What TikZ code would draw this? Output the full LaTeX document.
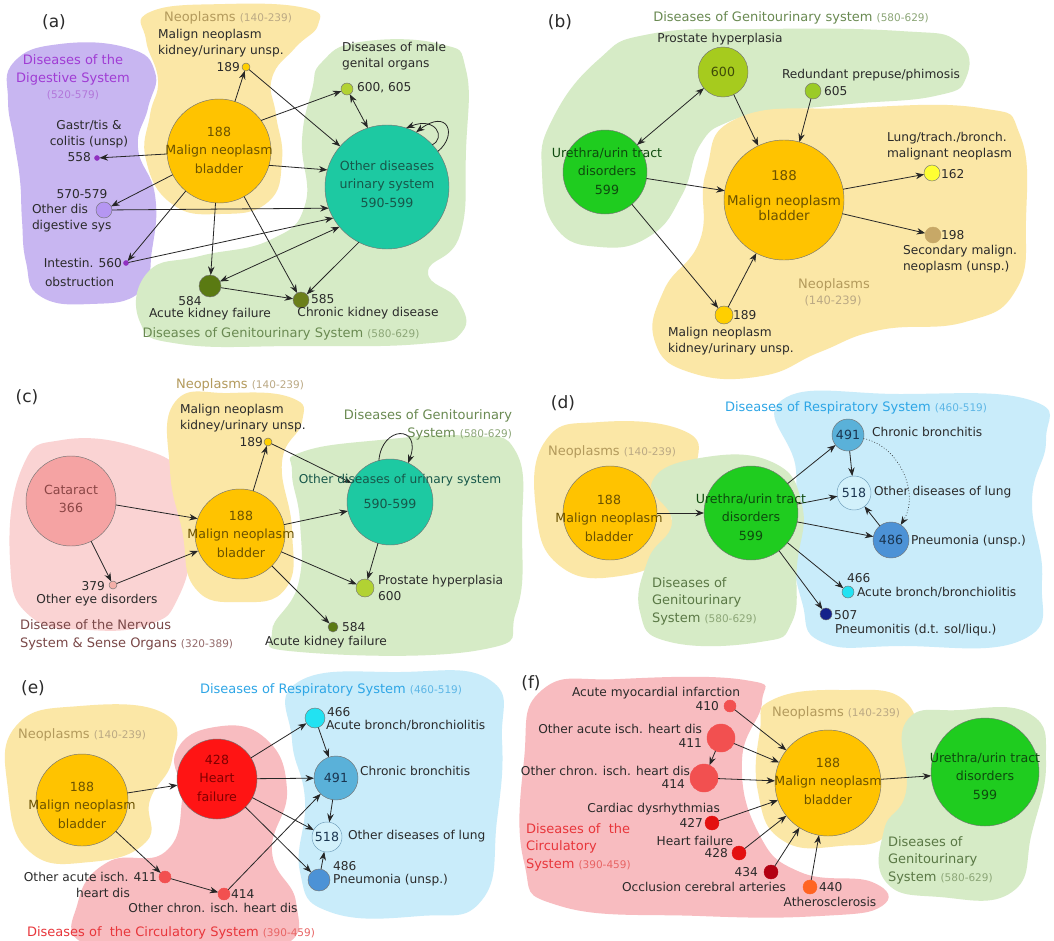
\documentclass[tikz,border=0pt]{standalone}
\usepackage{fontspec}
\setmainfont{DejaVu Sans}
\usetikzlibrary{arrows.meta}
\definecolor{bY}{HTML}{FBE7A6}
\definecolor{bG}{HTML}{D6EBC6}
\definecolor{bP}{HTML}{C8B6F1}
\definecolor{bPkL}{HTML}{FAD3D3}
\definecolor{bPk}{HTML}{F8BCC0}
\definecolor{bB}{HTML}{C9ECFA}
\definecolor{txt}{HTML}{2A2A2A}
\definecolor{tY}{HTML}{B39A5C}
\definecolor{rY}{HTML}{BBA984}
\definecolor{tG}{HTML}{6A8A52}
\definecolor{tGd}{HTML}{5A7845}
\definecolor{rG}{HTML}{8CA677}
\definecolor{tPu}{HTML}{A03CD4}
\definecolor{rPu}{HTML}{B277DA}
\definecolor{tB}{HTML}{2EA6E6}
\definecolor{rB}{HTML}{5DB6E6}
\definecolor{tR}{HTML}{E8363B}
\definecolor{rR}{HTML}{E86464}
\definecolor{tN}{HTML}{7A4848}
\definecolor{rN}{HTML}{946A6A}
\definecolor{tCat}{HTML}{8A4545}
\definecolor{c188}{HTML}{FFC300}
\definecolor{t188}{HTML}{6B5200}
\definecolor{c590}{HTML}{1DC9A2}
\definecolor{t590}{HTML}{17574A}
\definecolor{c599}{HTML}{1FCC1F}
\definecolor{t599}{HTML}{0E4A0E}
\definecolor{c189}{HTML}{FFCF00}
\definecolor{cPd}{HTML}{9030C0}
\definecolor{c570}{HTML}{B596F2}
\definecolor{c584}{HTML}{5A7A12}
\definecolor{c585}{HTML}{6B7F1A}
\definecolor{c600}{HTML}{B2D233}
\definecolor{cb600}{HTML}{A6CB1E}
\definecolor{t600}{HTML}{3E4A08}
\definecolor{c605}{HTML}{9BCB26}
\definecolor{c162}{HTML}{FFFF33}
\definecolor{c198}{HTML}{C7A867}
\definecolor{c366}{HTML}{F5A3A3}
\definecolor{c379}{HTML}{F4AFA8}
\definecolor{c491}{HTML}{5AB1D9}
\definecolor{c518}{HTML}{D2F1FB}
\definecolor{d518}{HTML}{6A9AB8}
\definecolor{c486}{HTML}{4C92D6}
\definecolor{c466}{HTML}{22E2F2}
\definecolor{c507}{HTML}{14218A}
\definecolor{tBl}{HTML}{1A3550}
\definecolor{c428}{HTML}{FF1414}
\definecolor{t428}{HTML}{800000}
\definecolor{cIsch}{HTML}{F25050}
\definecolor{c427}{HTML}{E31010}
\definecolor{c434}{HTML}{B30012}
\definecolor{c440}{HTML}{FF6422}
\newcommand{\lblfont}{\fontsize{12.2}{15.5}\selectfont}
\newcommand{\cirfont}{\fontsize{12.6}{18.5}\selectfont}
\newcommand{\ttlfont}{\fontsize{13}{17.5}\selectfont}
\newcommand{\rngfont}{\fontsize{10.5}{13}\selectfont}
\newcommand{\pnlfont}{\fontsize{17}{20}\selectfont}
\newcommand{\rngin}[2]{{\rngfont\textcolor{#1}{#2}}}
\begin{document}
\begin{tikzpicture}[x=1pt,y=-1pt,
  every node/.style={inner sep=0pt, outer sep=0pt},
  lbl/.style={font=\lblfont, text=txt, align=center},
  ctx/.style={font=\cirfont, align=center},
  ttl/.style={font=\ttlfont, align=center},
  rng/.style={font=\rngfont, align=center},
  pnl/.style={font=\pnlfont, text=txt},
  nd/.style={circle, draw=black!55, line width=0.45pt, inner sep=0pt, minimum size=#1},
  ar/.style={draw=black!85, line width=0.8pt, -{Stealth[length=8.5pt,width=6.5pt]}},
  dar/.style={draw=black!85, line width=0.8pt, {Stealth[length=8.5pt,width=6.5pt]}-{Stealth[length=8.5pt,width=6.5pt]}}
]
\useasboundingbox (0,0) rectangle (1054,940);
\fill[white] (0,0) rectangle (1054,940);
% ---------------- blobs ----------------
% (a)
\fill[bP] plot[smooth cycle, tension=0.8] coordinates {(14,62) (60,44) (128,48) (155,72) (148,108) (138,148) (155,195) (152,250) (140,292) (90,304) (40,296) (26,262) (22,220) (20,180) (14,140) (8,100)};
\fill[bG] plot[smooth cycle, tension=0.8] coordinates {(322,62) (360,42) (440,44) (466,70) (466,150) (460,235) (428,272) (458,300) (462,332) (420,344) (300,346) (180,344) (140,322) (148,272) (200,256) (270,240) (305,205) (302,140) (312,90)};
\fill[bY] plot[smooth cycle, tension=0.8] coordinates {(150,12) (225,4) (305,8) (318,25) (295,48) (272,78) (276,115) (282,160) (268,202) (220,214) (172,204) (146,160) (150,115) (158,80) (146,40)};
% (b)
\fill[bG] plot[smooth cycle, tension=0.8] coordinates {(552,120) (598,60) (650,34) (760,29) (900,31) (958,42) (966,78) (935,96) (850,104) (775,112) (728,122) (700,145) (682,195) (650,236) (600,247) (556,228) (542,172)};
\fill[bY] plot[smooth cycle, tension=0.8] coordinates {(738,118) (850,108) (980,108) (1020,135) (1026,220) (1016,290) (965,322) (880,330) (820,352) (762,376) (692,373) (655,342) (664,290) (700,240) (706,172)};
% (c)
\fill[bPkL] plot[smooth cycle, tension=0.8] coordinates {(22,468) (62,440) (140,448) (186,480) (192,540) (178,598) (150,624) (90,630) (30,616) (10,560)};
\fill[bY] plot[smooth cycle, tension=0.8] coordinates {(175,402) (230,393) (292,398) (302,422) (282,462) (292,530) (286,588) (240,602) (195,588) (182,530) (170,470)};
\fill[bG] plot[smooth cycle, tension=0.8] coordinates {(302,452) (380,440) (470,436) (516,452) (522,530) (516,612) (480,650) (300,652) (272,632) (298,585) (300,522) (292,472)};
% (d)
\fill[bY] plot[smooth cycle, tension=0.8] coordinates {(546,440) (600,422) (682,430) (697,462) (672,500) (670,550) (620,576) (560,566) (536,510)};
\fill[bB] plot[smooth cycle, tension=0.8] coordinates {(782,400) (900,394) (1030,400) (1046,440) (1032,500) (1042,580) (1022,640) (900,646) (822,642) (802,602) (792,540) (796,470)};
\fill[bG] plot[smooth cycle, tension=0.8] coordinates {(652,482) (700,458) (772,462) (802,505) (797,565) (792,622) (760,642) (670,642) (640,612) (648,560) (672,522)};
% (e)
\fill[bY] plot[smooth cycle, tension=0.8] coordinates {(16,726) (80,706) (165,714) (172,760) (150,800) (146,842) (90,862) (30,852) (8,790)};
\fill[bB] plot[smooth cycle, tension=0.8] coordinates {(298,682) (400,672) (490,680) (502,740) (497,820) (482,900) (420,916) (330,912) (300,872) (305,800) (292,740)};
\fill[bPk] plot[smooth cycle, tension=0.8] coordinates {(176,752) (215,727) (265,738) (287,790) (272,852) (296,902) (284,945) (200,948) (88,945) (78,902) (108,862) (165,852) (182,800)};
% (f)
\fill[bPk] plot[smooth cycle, tension=0.8] coordinates {(542,690) (620,679) (745,680) (762,702) (742,760) (758,832) (800,872) (872,882) (882,906) (820,916) (700,916) (560,906) (524,862) (524,760)};
\fill[bY] plot[smooth cycle, tension=0.8] coordinates {(772,700) (840,690) (906,702) (912,762) (892,830) (840,846) (782,840) (758,792) (760,730)};
\fill[bG] plot[smooth cycle, tension=0.8] coordinates {(906,722) (960,710) (1030,714) (1046,762) (1032,832) (1012,892) (940,897) (886,882) (884,830) (906,792)};
% ---------------- circles ----------------
% (a)
\node[nd=104pt, fill=c188] (a188) at (219,151) {};
\node[nd=124pt, fill=c590] (a590) at (387,187) {};
\node[nd=8pt, fill=c189] (a189) at (246,67) {};
\node[nd=12pt, fill=c600] (a600) at (347,89) {};
\node[nd=5pt, fill=cPd, draw=cPd] (a558) at (97,158) {};
\node[nd=16pt, fill=c570] (a570) at (104,210) {};
\node[nd=5pt, fill=cPd, draw=cPd] (a560) at (126,263) {};
\node[nd=22pt, fill=c584] (a584) at (210,286) {};
\node[nd=16pt, fill=c585] (a585) at (301,300) {};
% (b)
\node[nd=50pt, fill=cb600] (b600) at (723,72) {};
\node[nd=16pt, fill=c605] (b605) at (813,91) {};
\node[nd=84pt, fill=c599] (b599) at (605,172) {};
\node[nd=120pt, fill=c188] (b188) at (784,200) {};
\node[nd=16pt, fill=c162] (b162) at (932,173) {};
\node[nd=16pt, fill=c198, draw=c198] (b198) at (933,235) {};
\node[nd=18pt, fill=c189] (b189) at (724,315) {};
% (c)
\node[nd=90pt, fill=c366] (c366) at (71,501) {};
\node[nd=8pt, fill=c379] (c379) at (113,585) {};
\node[nd=90pt, fill=c188] (c188) at (240,534) {};
\node[nd=8pt, fill=c189] (c189) at (268,442) {};
\node[nd=86pt, fill=c590] (c590) at (390,502) {};
\node[nd=18pt, fill=c600] (c600) at (365,588) {};
\node[nd=10pt, fill=c584] (c584) at (333,627) {};
% (d)
\node[nd=94pt, fill=c188] (d188) at (610,513) {};
\node[nd=94pt, fill=c599] (d599) at (751,513) {};
\node[nd=32pt, fill=c491] (d491) at (848,435) {};
\node[nd=34pt, fill=c518, draw=d518] (d518) at (854,493) {};
\node[nd=36pt, fill=c486] (d486) at (891,540) {};
\node[nd=12pt, fill=c466] (d466) at (848,592) {};
\node[nd=12pt, fill=c507] (d507) at (826,614) {};
% (e)
\node[nd=92pt, fill=c188] (e188) at (82,800) {};
\node[nd=80pt, fill=c428] (e428) at (217,779) {};
\node[nd=12pt, fill=cIsch, draw=cIsch] (e411) at (165,877) {};
\node[nd=12pt, fill=cIsch, draw=cIsch] (e414) at (224,894) {};
\node[nd=20pt, fill=c466] (e466) at (315,718) {};
\node[nd=44pt, fill=c491] (e491) at (336,778) {};
\node[nd=30pt, fill=c518, draw=d518] (e518) at (327,837) {};
\node[nd=22pt, fill=c486] (e486) at (319,880) {};
% (f)
\node[nd=106pt, fill=c188] (f188) at (828,783) {};
\node[nd=108pt, fill=c599] (f599) at (985,772) {};
\node[nd=12pt, fill=cIsch, draw=cIsch] (f410) at (730,706) {};
\node[nd=28pt, fill=cIsch, draw=cIsch] (f411) at (721,738) {};
\node[nd=28pt, fill=cIsch, draw=cIsch] (f414) at (704,778) {};
\node[nd=14pt, fill=c427, draw=c427] (f427) at (712,823) {};
\node[nd=14pt, fill=c427, draw=c427] (f428) at (739,853) {};
\node[nd=14pt, fill=c434, draw=c434] (f434) at (771,872) {};
\node[nd=14pt, fill=c440, draw=c440] (f440) at (810,887) {};
% ---------------- connectors ----------------
% (a)
\draw[ar] (a188) -- (a189);
\draw[ar] (a188.36) -- (a600);
\draw[ar] (a188.-16) -- (a590.164);
\draw[ar] (a188) -- (a558);
\draw[ar] (a188) -- (a570);
\draw[ar] (a188) -- (a560);
\draw[ar] (a188) -- (a584);
\draw[ar] (a188) -- (a585);
\draw[ar] (a189) -- (a590.139);
\draw[dar] (a600) -- (a590.108);
\draw[ar] (a570) -- (a590.200);
\draw[ar] (a560) -- (a590.210);
\draw[dar] (a584) -- (a590.220);
\draw[ar] (a584) -- (a585);
\draw[ar] (a590.243) -- (a585);
\draw[ar] (a590.35) .. controls (458,135) and (448,108) .. (a590.62);
\draw[ar] (a590.43) .. controls (446,138) and (436,116) .. (a590.72);
% (b)
\draw[dar] (b599) -- (b600);
\draw[ar] (b600) -- (b188);
\draw[ar] (b605) -- (b188);
\draw[ar] (b599) -- (b188);
\draw[ar] (b599) -- (b189);
\draw[ar] (b189) -- (b188);
\draw[ar] (b188) -- (b162);
\draw[ar] (b188) -- (b198);
% (c)
\draw[ar] (c366.-5) -- (c188.160);
\draw[ar] (c366) -- (c379);
\draw[ar] (c379) -- (c188);
\draw[ar] (c188) -- (c189);
\draw[ar] (c189) -- (c590);
\draw[ar] (c188) -- (c590);
\draw[ar] (c590) -- (c600);
\draw[ar] (c188) -- (c600);
\draw[ar] (c188) -- (c584);
\draw[ar] (c590.105) .. controls (382,425) and (422,425) .. (c590.65);
% (d)
\draw[ar] (d188) -- (d599);
\draw[ar] (d599) -- (d491);
\draw[ar] (d599) -- (d518);
\draw[ar] (d599) -- (d486);
\draw[ar] (d599) -- (d466);
\draw[ar] (d599) -- (d507);
\draw[ar] (d491) -- (d518);
\draw[ar] (d486) -- (d518);
\draw[ar, dotted, line width=0.6pt] (d491) to[bend left=55] (d486);
% (e)
\draw[ar] (e188) -- (e428);
\draw[ar] (e188) -- (e411);
\draw[ar] (e411) -- (e414);
\draw[ar] (e414) -- (e491);
\draw[ar] (e428) -- (e466);
\draw[ar] (e428) -- (e491);
\draw[ar] (e428) -- (e518);
\draw[ar] (e428) -- (e486);
\draw[ar] (e466) -- (e491);
\draw[ar] (e491) -- (e518);
\draw[ar] (e486) -- (e518);
% (f)
\draw[ar] (f410) -- (f188);
\draw[ar] (f411) -- (f188);
\draw[ar] (f414) -- (f188);
\draw[ar] (f427) -- (f188);
\draw[ar] (f428) -- (f188);
\draw[ar] (f434) -- (f188);
\draw[ar] (f440) -- (f188);
\draw[ar] (f411) -- (f414);
\draw[ar] (f188) -- (f599);
% ---------------- texts ----------------
% (a)
\node[pnl] (pa) at (54,22) {(a)};
\node[ttl, text=tPu] (ta1) at (73,70) {Diseases of the\\Digestive System};
\node[rng, text=rPu] (ta2) at (73,95) {(520-579)};
\node[ttl, text=tY] (ta3) at (228,18) {Neoplasms \rngin{rY}{(140-239)}};
\node[lbl, align=left, anchor=west] (ta4) at (158,43) {Malign neoplasm\\kidney/urinary unsp.};
\node[lbl, anchor=east] (ta5) at (240,67) {189};
\node[lbl, align=left, anchor=west] (ta6) at (342,56) {Diseases of male\\genital organs};
\node[lbl, anchor=west] (ta7) at (357,88) {600, 605};
\node[lbl] (ta8) at (89,134) {Gastr/tis \&\\colitis (unsp)};
\node[lbl, anchor=east] (ta9) at (91,157) {558};
\node[lbl] (ta10) at (82,194) {570-579};
\node[lbl, align=left, anchor=west] (ta11) at (32,218) {Other dis\\digestive sys};
\node[lbl, anchor=east] (ta12) at (122,263) {Intestin. 560};
\node[lbl, anchor=west] (ta13) at (45,282) {obstruction};
\node[lbl] (ta14) at (190,301) {584};
\node[lbl] (ta15) at (210,314) {Acute kidney failure};
\node[lbl, anchor=west] (ta16) at (311,299) {585};
\node[lbl] (ta17) at (368,313) {Chronic kidney disease};
\node[ttl, text=tG] (ta18) at (281,334) {Diseases of Genitourinary System \rngin{rG}{(580-629)}};
\node[ctx, text=t188] (ta19) at (219,150) {188\\Malign neoplasm\\bladder};
\node[ctx, text=t590] (ta20) at (387,184) {Other diseases\\urinary system\\590-599};
% (b)
\node[pnl] (pb) at (560,22) {(b)};
\node[ttl, text=tG] (tb1) at (791,18) {Diseases of Genitourinary system \rngin{rG}{(580-629)}};
\node[lbl] (tb2) at (720,39) {Prostate hyperplasia};
\node[ctx, text=t600] (tb3) at (723,72) {600};
\node[lbl] (tb4) at (871,75) {Redundant prepuse/phimosis};
\node[lbl, anchor=west] (tb5) at (824,91) {605};
\node[ctx, text=t599] (tb6) at (607,171) {Urethra/urin tract\\disorders\\599};
\node[ctx, text=t188, font=\fontsize{13.4}{15.5}\selectfont] (tb7) at (784,176) {188};
\node[ctx, text=t188, font=\fontsize{13.4}{15.5}\selectfont] (tb8) at (784,208) {Malign neoplasm\\bladder};
\node[lbl, align=left, anchor=west] (tb9) at (887,146) {Lung/trach./bronch.\\malignant neoplasm};
\node[lbl, anchor=west] (tb10) at (941,174) {162};
\node[lbl, anchor=west] (tb11) at (941,235) {198};
\node[lbl, align=left, anchor=west] (tb12) at (903,259) {Secondary malign.\\neoplasm (unsp.)};
\node[ttl, text=tY] (tb13) at (834,285) {Neoplasms};
\node[rng, text=rY, font=\fontsize{11.5}{13}\selectfont] (tb14) at (833,301) {(140-239)};
\node[lbl, anchor=west] (tb15) at (733,315) {189};
\node[lbl, align=left, anchor=west] (tb16) at (668,341) {Malign neoplasm\\kidney/urinary unsp.};
% (c)
\node[pnl] (pc) at (27,397) {(c)};
\node[ttl, text=tY] (tc1) at (240,385) {Neoplasms \rngin{rY}{(140-239)}};
\node[lbl, align=left, anchor=west] (tc2) at (180,418) {Malign neoplasm\\kidney/urinary unsp.};
\node[lbl, anchor=east] (tc3) at (263,442) {189};
\node[ttl, align=right, anchor=east, text=tG] (tc4) at (512,425) {Diseases of Genitourinary\\System \rngin{rG}{(580-629)}};
\node[ctx, text=tCat] (tc5) at (71,499) {Cataract\\366};
\node[lbl, anchor=east] (tc6) at (105,586) {379};
\node[lbl] (tc7) at (97,600) {Other eye disorders};
\node[ttl, align=left, anchor=west, text=tN] (tc8) at (20,635) {Disease of the Nervous\\System \& Sense Organs \rngin{rN}{(320-389)}};
\node[ctx, text=t188] (tc9) at (241,534) {188\\Malign neoplasm\\bladder};
\node[lbl, text=t590] (tc10) at (400,480) {Other diseases of urinary system};
\node[ctx, text=t590] (tc11) at (390,504) {590-599};
\node[lbl, align=left, anchor=west] (tc12) at (378,588) {Prostate hyperplasia\\600};
\node[lbl, anchor=west] (tc13) at (342,627) {584};
\node[lbl] (tc14) at (326,642) {Acute kidney failure};
% (d)
\node[pnl] (pd) at (563,403) {(d)};
\node[ttl, text=tB] (td1) at (856,408) {Diseases of Respiratory System \rngin{rB}{(460-519)}};
\node[ttl, text=tY] (td2) at (612,452) {Neoplasms \rngin{rY}{(140-239)}};
\node[ctx, text=t188] (td3) at (609,518) {188\\Malign neoplasm\\bladder};
\node[ctx, text=t599] (td4) at (751,517) {Urethra/urin tract\\disorders\\599};
\node[ttl, align=left, anchor=west, text=tGd] (td5) at (652,601) {Diseases of\\Genitourinary\\System \rngin{rG}{(580-629)}};
\node[ctx, text=tBl] (td6) at (848,435) {491};
\node[lbl, anchor=west] (td7) at (872,432) {Chronic bronchitis};
\node[ctx, text=tBl] (td8) at (854,493) {518};
\node[lbl, anchor=west] (td9) at (874,492) {Other diseases of lung};
\node[ctx, text=tBl] (td10) at (891,540) {486};
\node[lbl, anchor=west] (td11) at (911,541) {Pneumonia (unsp.)};
\node[lbl, anchor=west] (td12) at (847,578) {466};
\node[lbl, anchor=west] (td13) at (857,592) {Acute bronch/bronchiolitis};
\node[lbl, anchor=west] (td14) at (834,615) {507};
\node[lbl, anchor=west] (td15) at (835,630) {Pneumonitis (d.t. sol/liqu.)};
% (e)
\node[pnl] (pe) at (33,688) {(e)};
\node[ttl, text=tB] (te1) at (331,690) {Diseases of Respiratory System \rngin{rB}{(460-519)}};
\node[ttl, text=tY] (te2) at (82,735) {Neoplasms \rngin{rY}{(140-239)}};
\node[ctx, text=t188] (te3) at (82,805) {188\\Malign neoplasm\\bladder};
\node[ctx, text=t428] (te4) at (217,778) {428\\Heart\\failure};
\node[lbl, anchor=east] (te5) at (157,877) {Other acute isch. 411};
\node[lbl] (te6) at (103,893) {heart dis};
\node[lbl, anchor=west] (te7) at (231,894) {414};
\node[lbl] (te8) at (213,908) {Other chron. isch. heart dis};
\node[ttl, text=tR] (te9) at (171,933) {Diseases of\ \ the Circulatory System \rngin{rR}{(390-459)}};
\node[lbl, anchor=west] (te10) at (327,712) {466};
\node[lbl, anchor=west] (te11) at (326,725) {Acute bronch/bronchiolitis};
\node[ctx, text=tBl] (te12) at (336,778) {491};
\node[lbl, anchor=west] (te13) at (360,771) {Chronic bronchitis};
\node[ctx, text=tBl] (te14) at (327,837) {518};
\node[lbl, anchor=west] (te15) at (348,836) {Other diseases of lung};
\node[lbl, anchor=west] (te16) at (333,866) {486};
\node[lbl, anchor=west] (te17) at (333,880) {Pneumonia (unsp.)};
% (f)
\node[pnl] (pf) at (531,683) {(f)};
\node[ttl, align=left, anchor=west, text=tR] (tf1) at (526,847) {Diseases of\ \ the\\Circulatory\\System \rngin{rR}{(390-459)}};
\node[ttl, text=tY] (tf2) at (836,713) {Neoplasms \rngin{rY}{(140-239)}};
\node[ctx, text=t188] (tf3) at (828,781) {188\\Malign neoplasm\\bladder};
\node[ctx, text=t599] (tf4) at (985,776) {Urethra/urin tract\\disorders\\599};
\node[ttl, align=left, anchor=west, text=tGd] (tf5) at (888,860) {Diseases of\\Genitourinary\\System \rngin{rG}{(580-629)}};
\node[lbl] (tf6) at (656,693) {Acute myocardial infarction};
\node[lbl, anchor=east] (tf7) at (719,706) {410};
\node[lbl, anchor=east] (tf8) at (702,729) {Other acute isch. heart dis};
\node[lbl, anchor=east] (tf9) at (702,743) {411};
\node[lbl, anchor=east] (tf10) at (690,771) {Other chron. isch. heart dis};
\node[lbl, anchor=east] (tf11) at (685,784) {414};
\node[lbl, anchor=east] (tf12) at (720,809) {Cardiac dysrhythmias};
\node[lbl, anchor=east] (tf13) at (703,823) {427};
\node[lbl, anchor=east] (tf14) at (733,841) {Heart failure};
\node[lbl, anchor=east] (tf15) at (728,853) {428};
\node[lbl, anchor=east] (tf16) at (758,872) {434};
\node[lbl] (tf17) at (704,887) {Occlusion cerebral arteries};
\node[lbl, anchor=west] (tf18) at (819,887) {440};
\node[lbl] (tf19) at (830,902) {Atherosclerosis};
\end{tikzpicture}
\end{document}
